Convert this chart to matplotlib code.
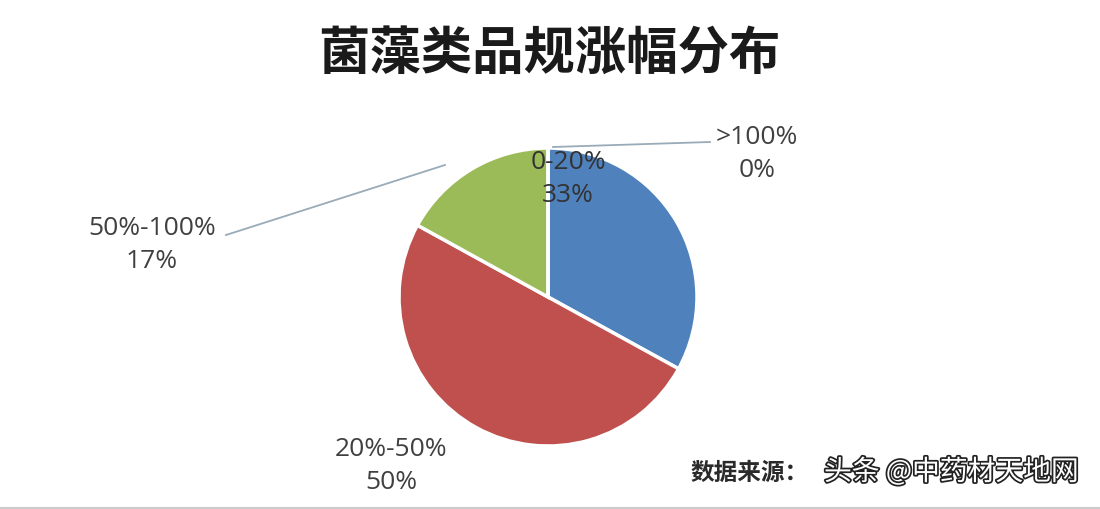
import matplotlib
matplotlib.use('Agg')
import matplotlib.pyplot as plt
import matplotlib.patheffects as pe

plt.rcParams['font.family'] = ['Noto Sans CJK SC', 'DejaVu Sans']

# data
categories = ['0-20%', '20%-50%', '50%-100%', '>100%']
shares = [33, 50, 17, 0]
colors = ['#4F81BD', '#C0504D', '#9BBB59', '#8064A2']

title = '菌藻类品规涨幅分布'
source_text = '数据来源：'
watermark = '头条 @中药材天地网'

W, H = 1100, 510
fig = plt.figure(figsize=(W / 100, H / 100), dpi=100)
fig.patch.set_facecolor('white')
ax = fig.add_axes([0, 0, 1, 1])
ax.set_xlim(0, W)
ax.set_ylim(0, H)
ax.set_aspect('equal')
ax.axis('off')

# pie, pixel coordinates (y measured from bottom)
cx, cy, r = 548, H - 298, 149
wedges, _ = ax.pie(shares, colors=colors, startangle=90, counterclock=False,
                   center=(cx, cy), radius=r, normalize=True,
                   wedgeprops=dict(edgecolor='white', linewidth=2.5))
ax.set_xlim(0, W)
ax.set_ylim(0, H)

label_color = '#404040'
lab_font = dict(fontsize=19, color=label_color, ha='center', va='center',
                linespacing=1.4, family=['Open Sans', 'DejaVu Sans'])

def lab(i):
    return f'{categories[i]}\n{shares[i]}%'

# 0-20% inside near top
ax.text(568, H - 179, lab(0), color='#333333',
        **{k: v for k, v in lab_font.items() if k != 'color'})
# 20%-50% bottom left
ax.text(391, H - 466, lab(1), **lab_font)
# 50%-100% left with leader line
ax.text(152, H - 245, lab(2), **lab_font)
ax.plot([226, 445], [H - 236, H - 166], color='#9aabb8', lw=1.3)
# >100% right with leader line
ax.text(757, H - 154, lab(3), **lab_font)
ax.plot([553, 710], [H - 148, H - 143], color='#9aabb8', lw=1.3)

# title
ax.text(549, H - 53, title, fontsize=37, fontweight='black', color='#1a1a1a',
        ha='center', va='center')

# source + watermark
ax.text(690, H - 473, source_text, fontsize=17, color='#2a2a2a', fontweight='bold',
        ha='left', va='center')
ax.text(824, H - 473, watermark, fontsize=20, color='white', ha='left', va='center',
        path_effects=[pe.withStroke(linewidth=2.5, foreground='#222222')])

ax.plot([0, W], [1.5, 1.5], color='#cccccc', lw=1.5)

fig.savefig('out.png', dpi=100, facecolor='white')
